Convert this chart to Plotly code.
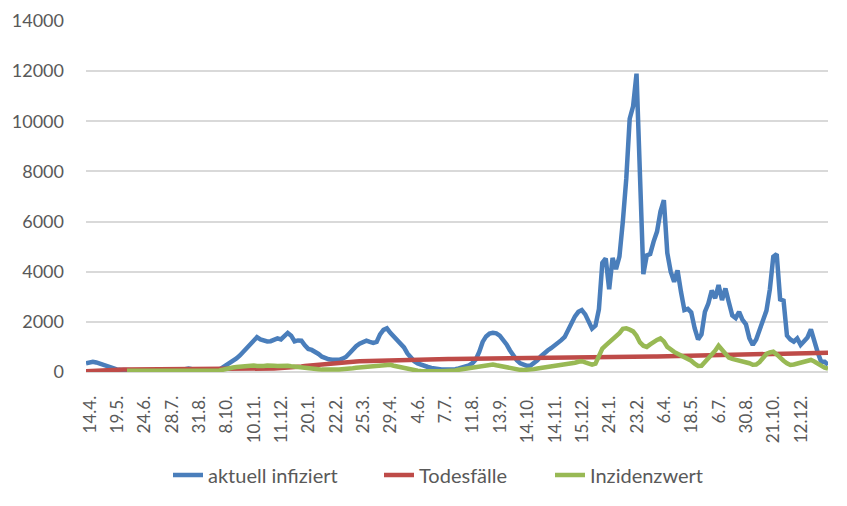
import plotly.graph_objects as go

tick_labels = ["14.4.", "19.5.", "24.6.", "28.7.", "31.8.", "8.10.", "10.11.", "11.12.", "20.1.",
               "22.2.", "25.3.", "29.4.", "4.6.", "7.7.", "11.8.", "13.9.", "14.10.", "14.11.",
               "15.12.", "24.1.", "23.2.", "6.4.", "18.5.", "6.7.", "30.8.", "21.10.", "12.12."]
points_per_label = 8

aktuell_infiziert = [
    345, 390, 410, 380, 330, 280, 220, 170, 130, 105,
    90, 75, 65, 60, 60, 55, 55, 60, 60, 55,
    55, 60, 60, 55, 55, 60, 60, 65, 70, 110,
    140, 100, 70, 65, 60, 60, 65, 70, 75, 90,
    180, 260, 330, 420, 540, 660, 810, 960, 1130, 1300,
    1390, 1300, 1260, 1220, 1230, 1300, 1340, 1300, 1450, 1560,
    1450, 1220, 1260, 1250, 1060, 920, 880, 810, 720, 610,
    550, 505, 490, 480, 485, 530, 600, 740, 910, 1030,
    1130, 1200, 1250, 1200, 1160, 1200, 1500, 1680, 1740, 1560,
    1420, 1270, 1150, 980, 740, 560, 430, 340, 280, 230,
    200, 160, 125, 105, 100, 95, 90, 90, 110, 140,
    180, 220, 260, 350, 500, 800, 1200, 1420, 1530, 1560,
    1540, 1450, 1300, 1100, 860, 620, 470, 345, 280, 245,
    260, 340, 470, 620, 760, 860, 950, 1040, 1150, 1270,
    1400, 1700, 1980, 2220, 2400, 2473, 2300, 1980, 1730, 1850,
    2500, 4350, 4530, 3300, 4550, 4100, 4600, 6000, 7700, 10100,
    10600, 11900, 8200, 3900, 4650, 4700, 5200, 5600, 6400, 6850,
    4750, 4000, 3600, 4050, 3200, 2470, 2520, 2380, 1750, 1300,
    1500, 2400, 2730, 3250, 2940, 3470, 2870, 3330, 2780, 2260,
    2150, 2400, 2080, 1900, 1350, 1080, 1300, 1680, 2050, 2450,
    3300, 4600, 4700, 2900, 2850, 1450, 1300, 1210, 1340, 1080,
    1230, 1380, 1700, 1200, 780, 412, 412, 280,
]

todesfaelle = [
    30, 40, 50, 60, 70, 75, 80, 85, 90, 95,
    100, 100, 100, 100, 100, 100, 100, 100, 100, 100,
    100, 100, 100, 100, 100, 100, 100, 100, 100, 100,
    100, 100, 100, 100, 100, 100, 100, 100, 100, 100,
    100, 100, 100, 100, 100, 100, 100, 100, 100, 105,
    105, 110, 115, 120, 130, 140, 145, 150, 160, 170,
    180, 190, 205, 220, 240, 255, 265, 280, 295, 305,
    320, 335, 345, 360, 370, 380, 390, 400, 410, 420,
    425, 430, 440, 445, 450, 455, 460, 465, 470, 475,
    478, 480, 483, 486, 490, 493, 496, 500, 502, 504,
    505, 507, 509, 510, 511, 512, 514, 515, 516, 517,
    518, 519, 520, 521, 522, 523, 523, 524, 525, 526,
    526, 527, 527, 528, 528, 529, 529, 530, 530, 530,
    531, 532, 533, 535, 536, 538, 540, 542, 544, 546,
    548, 550, 552, 554, 555, 556, 558, 560, 562, 565,
    570, 575, 580, 584, 588, 592, 595, 598, 600, 603,
    605, 607, 609, 611, 613, 615, 618, 620, 623, 626,
    630, 632, 635, 637, 640, 642, 644, 646, 648, 652,
    655, 658, 660, 663, 665, 668, 670, 673, 675, 678,
    680, 683, 686, 689, 692, 695, 698, 700, 703, 706,
    710, 713, 716, 719, 722, 725, 728, 731, 734, 737,
    740, 744, 748, 752, 756, 760, 765, 770,
]

inzidenzwert = [
    None, None, None, None, None, None, None, None, None, None,
    None, None, 45, 45, 50, 50, 50, 50, 45, 45,
    50, 50, 50, 50, 45, 45, 50, 50, 50, 50,
    50, 50, 50, 50, 50, 50, 55, 55, 55, 60,
    90, 130, 160, 180, 200, 215, 230, 250, 270, 260,
    240, 230, 240, 260, 270, 250, 240, 250, 260, 250,
    230, 210, 200, 185, 170, 155, 140, 125, 110, 95,
    85, 80, 85, 95, 100, 105, 115, 130, 150, 170,
    185, 195, 210, 225, 235, 240, 260, 290, 315, 290,
    250, 215, 185, 150, 115, 90, 70, 50, 40, 30,
    27, 27, 27, 27, 27, 27, 27, 35, 60, 90,
    115, 140, 160, 180, 200, 230, 260, 290, 315, 300,
    270, 240, 210, 170, 130, 106, 95, 85, 80, 80,
    95, 115, 140, 160, 175, 190, 210, 230, 245, 265,
    285, 310, 330, 370, 410, 430, 380, 320, 290, 330,
    600, 930, 1060, 1180, 1350, 1420, 1550, 1720, 1740, 1690,
    1620, 1450, 1180, 1050, 1000, 1100, 1200, 1280, 1340, 1220,
    1000, 880, 800, 730, 660, 590, 530, 450, 330, 240,
    250, 400, 530, 650, 850, 1050, 900, 700, 570, 520,
    490, 480, 450, 420, 350, 290, 300, 400, 560, 720,
    780, 810, 700, 550, 450, 350, 280, 300, 340, 370,
    400, 440, 480, 420, 320, 220, 170, 140,
]

n = len(aktuell_infiziert)
x_idx = list(range(n))
tick_vals = [i * points_per_label for i in range(len(tick_labels))]

FONT = "Lato, Open Sans, sans-serif"
TXT = "#595959"
GRID = "#d9d9d9"
# the page body has an 8px margin, so the figure is 16px smaller than the window
W, H = 831, 490
OFF = 8

series = [
    ("aktuell infiziert", aktuell_infiziert, "#4a7ebb", "legend", 168),
    ("Todesfälle", todesfaelle, "#be4b48", "legend2", 379),
    ("Inzidenzwert", inzidenzwert, "#98b954", "legend3", 550),
]

fig = go.Figure()
for name, vals, col, leg, _ in series:
    fig.add_trace(go.Scatter(x=x_idx, y=vals, mode="lines", name=name, legend=leg,
                             line=dict(color=col, width=4.5)))

legend_common = dict(orientation="h", xref="container", yref="container",
                     xanchor="left", yanchor="middle", y=(H - (475 - OFF)) / H,
                     bgcolor="rgba(0,0,0,0)", borderwidth=0,
                     font=dict(family=FONT, size=20, color=TXT))
layout_legends = {}
for name, vals, col, leg, lx in series:
    layout_legends[leg] = dict(legend_common, x=(lx - OFF) / W)

fig.update_layout(
    width=W, height=H,
    paper_bgcolor="white", plot_bgcolor="white",
    margin=dict(l=86 - OFF, r=W - (828 - OFF), t=21 - OFF, b=H - (372 - OFF)),
    font=dict(family=FONT, size=17, color=TXT),
    showlegend=True,
    xaxis=dict(range=[0, n - 1], tickmode="array", tickvals=tick_vals, ticktext=tick_labels,
               tickangle=-90, showgrid=False, zeroline=False, showline=False,
               ticks="outside", ticklen=16, tickcolor="rgba(0,0,0,0)",
               automargin=False, ticklabelshift=4,
               tickfont=dict(family=FONT, size=17, color=TXT)),
    yaxis=dict(range=[0, 14000], tickmode="array",
               tickvals=[0, 2000, 4000, 6000, 8000, 10000, 12000, 14000],
               ticktext=["0", "2000", "4000", "6000", "8000", "10000", "12000", "14000"],
               showgrid=True, gridcolor=GRID, gridwidth=1.5,
               zeroline=True, zerolinecolor=GRID, zerolinewidth=1.5,
               showline=False, ticks="", ticklabelstandoff=21, automargin=False,
               tickfont=dict(family=FONT, size=18, color=TXT)),
    **layout_legends,
)

fig.write_html("out.html")
